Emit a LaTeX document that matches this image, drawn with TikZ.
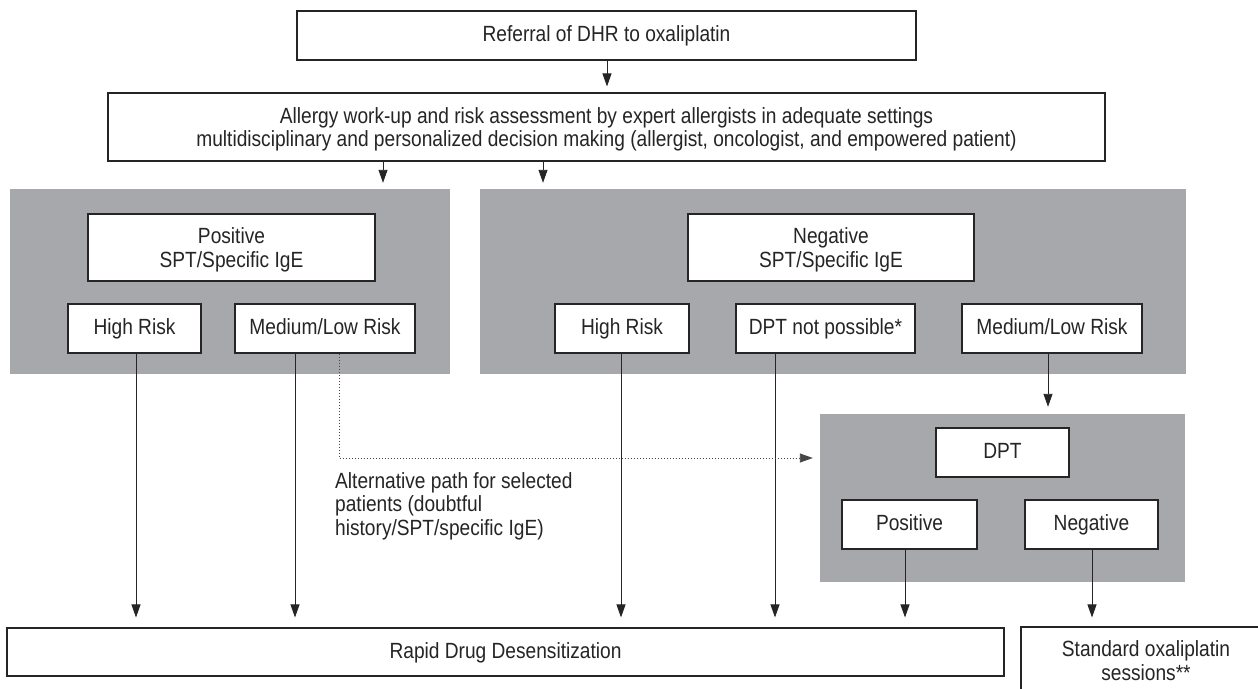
\documentclass[tikz,border=0pt]{standalone}
\usepackage{fontspec}
\setmainfont[FakeStretch=0.87]{Liberation Sans}
\usetikzlibrary{arrows.meta}
\definecolor{panel}{RGB}{167,168,172}
\definecolor{ink}{RGB}{38,36,37}
\newcommand\diagfont{\fontsize{22}{23.5}\selectfont}
\begin{document}
\begin{tikzpicture}[x=1pt,y=-1pt,
  box/.style={draw=ink, line width=1.1pt, fill=white, inner sep=0pt, align=center,
    text=ink, font=\diagfont, text height=15.5pt, text depth=3pt},
  twoline/.style={text height=39pt},
  panelbox/.style={fill=panel, inner sep=0pt},
  arr/.style={draw=ink, line width=0.9pt, -{Triangle[length=13pt,width=9pt]}},
  dotarr/.style={draw=ink!85, line width=0.9pt, dash pattern=on 0.9pt off 2.1pt,
    -{Triangle[length=13pt,width=9pt]}},
  note/.style={inner sep=0pt, align=left, text=ink, font=\diagfont, anchor=north west}]
\useasboundingbox (0,0) rectangle (1258,688);
% panels
\node[panelbox, minimum width=440pt, minimum height=185pt] (grayL) at (230,281.5) {};
\node[panelbox, minimum width=706pt, minimum height=185pt] (grayR) at (833,281.5) {};
\node[panelbox, minimum width=365pt, minimum height=168pt] (grayD) at (1002.5,498) {};
% boxes
\node[box, minimum width=619pt, minimum height=49pt] (top) at (606.5,35.5) {Referral of DHR to oxaliplatin};
\node[box, twoline, text depth=0pt, minimum width=997pt, minimum height=68pt] (assess) at (606.5,127)
  {Allergy work-up and risk assessment by expert allergists in adequate settings\\multidisciplinary and personalized decision making (allergist, oncologist, and empowered patient)};
\node[box, twoline, text depth=0pt, minimum width=287pt, minimum height=67pt] (pos) at (231.5,247.5) {Positive\\SPT/Specific IgE};
\node[box, minimum width=133pt, minimum height=49pt] (hrL) at (134.5,328.5) {High Risk};
\node[box, minimum width=180pt, minimum height=49pt] (mlL) at (325,328.5) {Medium/Low Risk};
\node[box, twoline, text depth=0pt, minimum width=286pt, minimum height=67pt] (neg) at (831,247.5) {Negative\\SPT/Specific IgE};
\node[box, minimum width=134pt, minimum height=49pt] (hrR) at (622,328.5) {High Risk};
\node[box, minimum width=179pt, minimum height=49pt] (dnp) at (825.5,328.5) {DPT not possible*};
\node[box, minimum width=180pt, minimum height=49pt] (mlR) at (1052,328.5) {Medium/Low Risk};
\node[box, minimum width=133pt, minimum height=49pt] (dpt) at (1002.5,452.5) {DPT};
\node[box, minimum width=135pt, minimum height=49pt] (dpos) at (909.5,524.5) {Positive};
\node[box, minimum width=133pt, minimum height=49pt] (dneg) at (1091.5,524.5) {Negative};
\node[box, minimum width=997pt, minimum height=48pt] (rdd) at (505.5,652) {Rapid Drug Desensitization};
\node[box, twoline, minimum width=250pt, minimum height=70pt] (std) at (1146,662) {Standard oxaliplatin\\sessions**};
\node[note] (alt) at (335,472) {Alternative path for selected\\patients (doubtful\\history/SPT/specific IgE)};
% connectors
\draw[arr, shorten >=6pt] (top.south -| 607,0) -- (assess.north -| 607,0);
\draw[arr, shorten >=6pt] (assess.south -| 383,0) -- (grayL.north -| 383,0);
\draw[arr, shorten >=6pt] (assess.south -| 543,0) -- (grayR.north -| 543,0);
\draw[arr, shorten >=10pt] (hrL.south -| 136,0) -- (rdd.north -| 136,0);
\draw[arr, shorten >=10pt] (mlL.south -| 295,0) -- (rdd.north -| 295,0);
\draw[arr, shorten >=10pt] (hrR.south -| 621,0) -- (rdd.north -| 621,0);
\draw[arr, shorten >=10pt] (dnp.south -| 775,0) -- (rdd.north -| 775,0);
\draw[arr, shorten >=10pt] (dpos.south -| 905,0) -- (rdd.north -| 905,0);
\draw[arr, shorten >=9pt] (dneg.south -| 1092,0) -- (std.north -| 1092,0);
\draw[arr, shorten >=7pt] (mlR.south -| 1048,0) -- (grayD.north -| 1048,0);
\draw[dotarr, shorten >=7pt] (mlL.south -| 339,0) |- (grayD.west |- 0,458);
\end{tikzpicture}
\end{document}
